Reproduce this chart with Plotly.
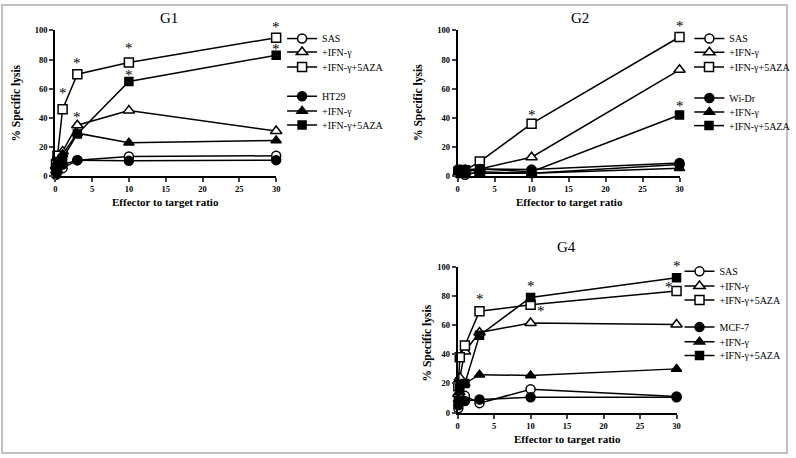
import plotly.graph_objects as go

W, H = 796, 458

# E:T ratios
et = [0.1, 0.3, 1, 3, 10, 30]

# G1
g1_sas = [2, 4, 5.5, 11, 13.5, 14]
g1_sas_ifn = [7, 13, 17, 35, 45, 31]
g1_sas_ifn_aza = [8, 14, 46, 70, 78, 95]
g1_cell = [1, 3, 8, 11, 10.5, 11]
g1_cell_ifn = [4, 10, 15, 29.5, 23, 24.5]
g1_cell_ifn_aza = [5, 10, 12, 29, 65, 83]

# G2
g2_sas = [2, 3, 1, 3, 2, 8]
g2_sas_ifn = [2, 3, 3, 5, 13, 73]
g2_sas_ifn_aza = [3, 4, 4, 10, 36, 95.5]
g2_cell = [4, 4.5, 4.5, 5, 4.5, 9]
g2_cell_ifn = [2, 2.5, 2, 2, 2, 5.5]
g2_cell_ifn_aza = [3, 3, 3, 5, 3, 42]

# G4
g4_sas = [3, 9, 11.5, 6.5, 16, 11]
g4_sas_ifn = [13, 24, 42, 55, 61.5, 60.5]
g4_sas_ifn_aza = [18, 38, 46, 69.5, 74, 83.5]
g4_cell = [5, 7, 8, 9, 10.5, 10.5]
g4_cell_ifn = [9, 14, 20, 26, 25.5, 30]
g4_cell_ifn_aza = [8, 18, 20, 53, 79, 92.5]

x_ticks = [0, 5, 10, 15, 20, 25, 30]
y_ticks = [0, 20, 40, 60, 80, 100]

panels = [
    dict(name="G1", cell="HT29", data=[g1_sas, g1_sas_ifn, g1_sas_ifn_aza, g1_cell, g1_cell_ifn, g1_cell_ifn_aza],
         stars=[(1, 58.9), (3, 79.4), (3, 43), (10, 90.1), (10, 71.6), (30, 104.5), (30, 89.5)]),
    dict(name="G2", cell="Wi-Dr", data=[g2_sas, g2_sas_ifn, g2_sas_ifn_aza, g2_cell, g2_cell_ifn, g2_cell_ifn_aza],
         stars=[(10, 44.3), (30, 105), (30, 50.3)]),
    dict(name="G4", cell="MCF-7", data=[g4_sas, g4_sas_ifn, g4_sas_ifn_aza, g4_cell, g4_cell_ifn, g4_cell_ifn_aza],
         stars=[(3, 79.7), (10, 89), (11.4, 71.6), (30, 102.5), (28.9, 88)]),
]

# pixel geometry: (x0, x30, y0, y100)
geo = [(54, 278, 175, 26), (462, 687, 175, 26), (462, 684, 416.7, 267.7)]
title_pos = [(169, 13), (586, 13), (572, 247)]
ytitle_pos = [(15, 100), (423, 100), (431, 346)]
xtitle_pos = [(166, 201), (575, 201), (573, 444)]
legend_x = [284, 697, 687]
legend_rows = [[34.3, 48, 63.3, 93.3, 108.3, 122.7],
               [34.3, 48.3, 63.3, 95, 109.3, 123.3],
               [272.3, 287.3, 301.7, 329.3, 344.3, 358.3]]

SERIF = "Liberation Serif"
symbols = ["circle", "triangle-up", "square", "circle", "triangle-up", "square"]
open_ = [True, True, True, False, False, False]
sizes = [9, 10, 9, 9, 9, 8]

fig = go.Figure()
annotations = []
layout = {}
n_leg = 0
for i, p in enumerate(panels):
    sfx = "" if i == 0 else str(i + 1)
    xa, ya = "x" + sfx, "y" + sfx
    names = ["SAS", "+IFN-γ", "+IFN-γ+5AZA", p["cell"], "+IFN-γ", "+IFN-γ+5AZA"]
    for k in range(6):
        n_leg += 1
        lg = "legend" if n_leg == 1 else f"legend{n_leg}"
        fig.add_trace(go.Scatter(
            x=et, y=p["data"][k], xaxis=xa, yaxis=ya, legend=lg,
            name=names[k], showlegend=True,
            mode="lines+markers", cliponaxis=False,
            line=dict(color="black", width=1.5),
            marker=dict(symbol=symbols[k], size=sizes[k],
                        color="white" if open_[k] else "black",
                        line=dict(color="black", width=1.5)),
        ))
        layout[lg] = dict(
            x=legend_x[i] / W, y=1 - legend_rows[i][k] / H, xanchor="left", yanchor="middle",
            bgcolor="rgba(0,0,0,0)", itemwidth=30, borderwidth=0, visible=True,
            font=dict(family=SERIF, size=10, color="black"),
        )
    x0, x30, y0, y100 = geo[i]
    px_per_unit = (y0 - y100) / 100.0
    layout["xaxis" + sfx] = dict(
        domain=[x0 / W, x30 / W], range=[0, 30], anchor=ya,
        tickvals=x_ticks, ticks="outside", ticklen=4, tickwidth=2,
        showline=True, linewidth=2, linecolor="black", showgrid=False, zeroline=False,
        tickfont=dict(family=SERIF, size=8.5, color="black", weight="bold"),
    )
    layout["yaxis" + sfx] = dict(
        domain=[1 - y0 / H, 1 - y100 / H], range=[0, 100], anchor=xa,
        tickvals=y_ticks, ticks="outside", ticklen=4, tickwidth=2,
        showline=True, linewidth=2, linecolor="black", showgrid=False, zeroline=False,
        tickfont=dict(family=SERIF, size=8.5, color="black", weight="bold"),
    )
    tx, ty = title_pos[i]
    annotations.append(dict(text=p["name"], x=tx / W, y=1 - ty / H, xref="paper", yref="paper",
                            xanchor="center", yanchor="middle", showarrow=False,
                            font=dict(family=SERIF, size=15, color="black")))
    yx, yy = ytitle_pos[i]
    annotations.append(dict(text="% Specific lysis", x=yx / W, y=1 - yy / H, xref="paper", yref="paper",
                            xanchor="center", yanchor="middle", textangle=-90, showarrow=False,
                            font=dict(family=SERIF, size=11.5, color="black", weight="bold")))
    xx, xy = xtitle_pos[i]
    annotations.append(dict(text="Effector to target ratio", x=xx / W, y=1 - xy / H, xref="paper", yref="paper",
                            xanchor="center", yanchor="middle", showarrow=False,
                            font=dict(family=SERIF, size=11, color="black", weight="bold")))
    for (sx, sy) in p["stars"]:
        ya_pos = min(sy, 100)
        annotations.append(dict(text="*", x=sx, y=ya_pos, xref=xa, yref=ya, showarrow=False,
                                yshift=(sy - ya_pos) * px_per_unit - 3,
                                xanchor="center", yanchor="middle",
                                font=dict(family=SERIF, size=15, color="#000000")))

fig.update_layout(
    width=W, height=H, margin=dict(l=0, r=0, t=0, b=0),
    paper_bgcolor="white", plot_bgcolor="white", showlegend=True,
    annotations=annotations,
    shapes=[dict(type="rect", xref="paper", yref="paper", x0=0, y0=0, x1=1, y1=1,
                 line=dict(color="#c0c0c0", width=2))],
    **layout,
)
fig.write_html("out.html", config={"displayModeBar": False},
               post_script="document.body.style.margin='0';")
